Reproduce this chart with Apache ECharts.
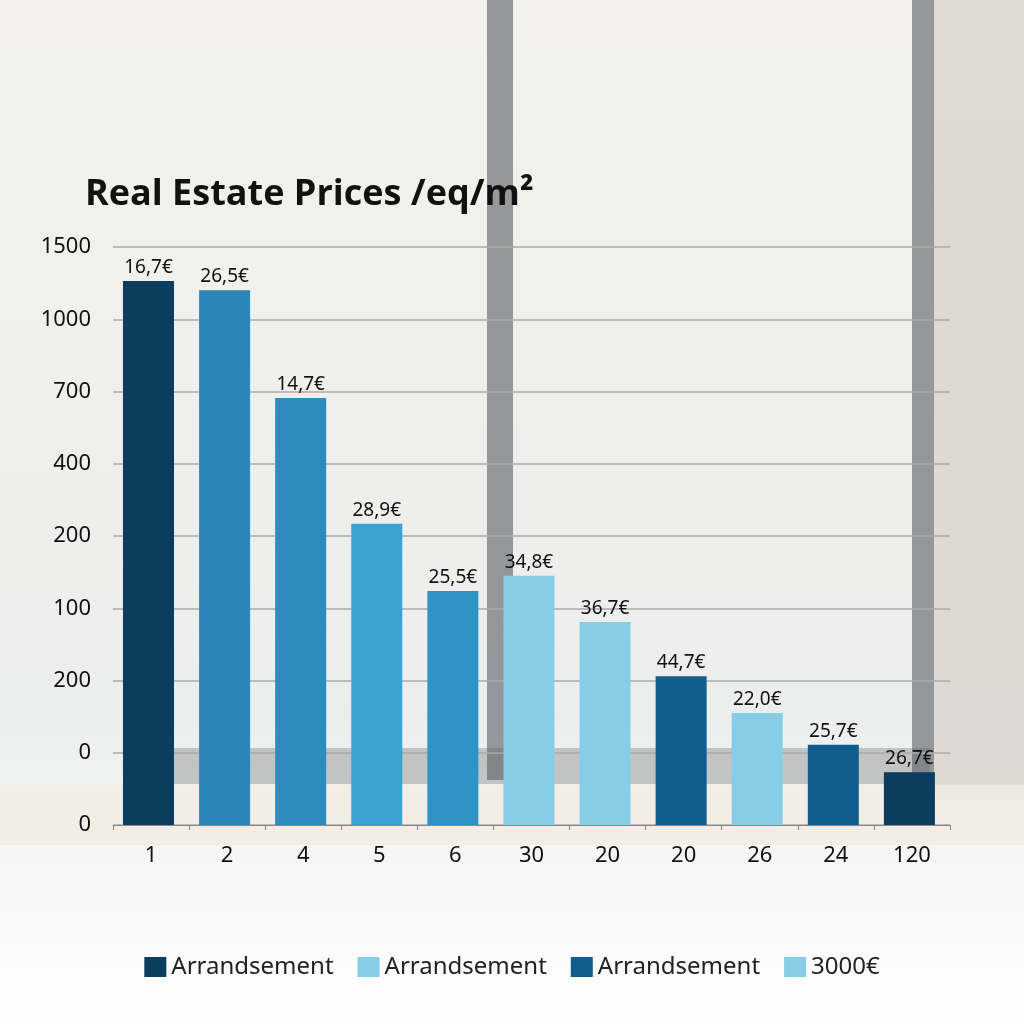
<!DOCTYPE html>
<html>
<head>
<meta charset="utf-8">
<script src="https://cdn.jsdelivr.net/npm/echarts@6/dist/echarts.min.js"></script>
<style>html,body{margin:0;padding:0;background:#f4f3ee}#main{width:1024px;height:1024px}</style>
</head>
<body>
<div id="main"></div>
<script>
var categories = ['1', '2', '4', '5', '6', '30', '20', '20', '26', '24', '120'];
var values = [7.53, 7.40, 5.91, 4.17, 3.24, 3.45, 2.81, 2.06, 1.55, 1.11, 0.73];
var barLabels = ['16,7€', '26,5€', '14,7€', '28,9€', '25,5€', '34,8€', '36,7€', '44,7€', '22,0€', '25,7€', '26,7€'];
var barColors = ['#0d3d5e', '#2e86b8', '#2e8bbd', '#3aa3d0', '#2f93c6', '#87cde8', '#87cde8', '#0f5e8e', '#87cde8', '#0f5e8e', '#0d3d5e'];
var yTickLabels = ['0', '0', '200', '100', '200', '400', '700', '1000', '1500'];
var legendNames = ['Arrandsement', 'Arrandsement\u200b', 'Arrandsement\u200b\u200b', '3000€'];
var legendColors = ['#0d3d5e', '#87cde8', '#0f5e8e', '#87cde8'];

var myChart = echarts.init(document.getElementById('main'));

var series = [{
    type: 'bar',
    name: 'main',
    barWidth: 51,
    data: values.map(function (v, i) { return { value: v, itemStyle: { color: barColors[i] } }; }),
    label: {
        show: true,
        position: 'top',
        distance: 4,
        color: '#111',
        fontSize: 19,
        fontFamily: 'Noto Sans',
        formatter: function (p) { return barLabels[p.dataIndex]; }
    }
}];
legendNames.forEach(function (n, i) {
    series.push({ type: 'bar', name: n, data: [], itemStyle: { color: legendColors[i] } });
});

var option = {
    backgroundColor: {
        type: 'linear', x: 0, y: 0, x2: 0, y2: 1,
        colorStops: [{ offset: 0, color: '#f3f2ec' }, { offset: 0.7, color: '#eceeed' }, { offset: 1, color: '#ffffff' }]
    },
    graphic: [
        { type: 'rect', z: -10, shape: { x: 487, y: 0, width: 26, height: 780 }, style: { fill: '#4a4f56', opacity: 0.55 } },
        { type: 'rect', z: -10, shape: { x: 912, y: 0, width: 22, height: 790 }, style: { fill: '#4a4f56', opacity: 0.55 } },
        { type: 'rect', z: -10, shape: { x: 934, y: 0, width: 90, height: 800 }, style: { fill: '#d9d4cc', opacity: 0.8 } },
        { type: 'rect', z: -10, shape: { x: 170, y: 748, width: 760, height: 36 }, style: { fill: '#5a5d60', opacity: 0.3 } },
        { type: 'rect', z: -10, shape: { x: 0, y: 785, width: 1024, height: 60 }, style: { fill: '#f2ebe2', opacity: 0.8 } }
    ],
    title: {
        text: 'Real Estate Prices /eq/m²',
        left: 80, top: 172,
        textStyle: { fontFamily: 'Open Sans', fontSize: 36, fontWeight: 'bold', color: '#111' }
    },
    grid: { left: 113, right: 74, top: 247, bottom: 199 },
    legend: {
        bottom: 40, left: 'center',
        icon: 'rect',
        itemWidth: 22, itemHeight: 20, itemGap: 24,
        data: legendNames,
        textStyle: { fontSize: 24, color: '#222', fontFamily: 'Noto Sans' },
        formatter: function (n) { return n.replace(/\u200b/g, ''); }
    },
    xAxis: {
        type: 'category',
        data: categories,
        axisLine: { lineStyle: { color: '#888' } },
        axisTick: { show: true, lineStyle: { color: '#888' } },
        axisLabel: { fontSize: 22, color: '#111', margin: 20, fontFamily: 'Noto Sans' }
    },
    yAxis: {
        type: 'value',
        min: 0, max: 8, interval: 1,
        axisLine: { show: false },
        splitLine: { lineStyle: { color: '#aaa', width: 1.5 } },
        axisLabel: {
            fontSize: 22, color: '#111', margin: 22, fontFamily: 'Noto Sans',
            formatter: function (v) { return yTickLabels[v]; }
        }
    },
    series: series
};
myChart.setOption(option);
</script>
</body>
</html>
